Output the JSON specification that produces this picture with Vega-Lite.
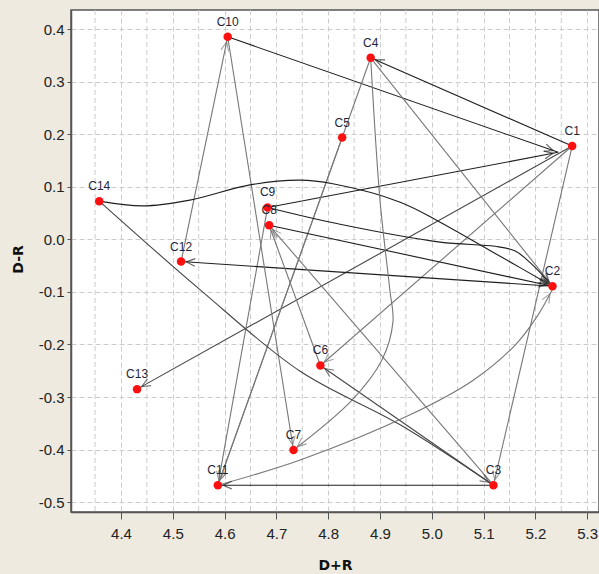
{
  "$schema": "https://vega.github.io/schema/vega-lite/v6.json",
  "width": 528,
  "height": 502,
  "autosize": {"type": "none"},
  "padding": {"left": 71, "top": 10, "right": 0, "bottom": 62},
  "background": "#EEEAE0",
  "view": {"fill": "white", "stroke": "#555555", "strokeWidth": 1.5},
  "config": {
    "axis": {
      "grid": true,
      "gridDash": [5, 3],
      "gridColor": "#cccccc",
      "gridWidth": 1,
      "domainColor": "#555555",
      "domainWidth": 1.5,
      "tickColor": "#555555",
      "labelFont": "Liberation Sans, Arial, sans-serif",
      "labelFontSize": 15,
      "labelColor": "#222222",
      "labelOverlap": false,
      "labelFlush": false,
      "titleFont": "DejaVu Sans",
      "titleFontSize": 14,
      "titleFontWeight": "bold",
      "titleColor": "#111111"
    }
  },
  "datasets": {
    "minorx": [
      {"g": 4.35}, {"g": 4.45}, {"g": 4.55}, {"g": 4.65}, {"g": 4.75},
      {"g": 4.85}, {"g": 4.95}, {"g": 5.05}, {"g": 5.15}, {"g": 5.25}
    ],
    "nodes": [
      {"name": "C1", "x": 5.271, "y": 0.178},
      {"name": "C2", "x": 5.233, "y": -0.089},
      {"name": "C3", "x": 5.119, "y": -0.468},
      {"name": "C4", "x": 4.882, "y": 0.346},
      {"name": "C5", "x": 4.827, "y": 0.194},
      {"name": "C6", "x": 4.785, "y": -0.240},
      {"name": "C7", "x": 4.733, "y": -0.401},
      {"name": "C8", "x": 4.686, "y": 0.027},
      {"name": "C9", "x": 4.683, "y": 0.061},
      {"name": "C10", "x": 4.606, "y": 0.386},
      {"name": "C11", "x": 4.587, "y": -0.468},
      {"name": "C12", "x": 4.516, "y": -0.042},
      {"name": "C13", "x": 4.431, "y": -0.285},
      {"name": "C14", "x": 4.358, "y": 0.073}
    ],
    "edges": [
      {"edge": "C10-C1", "seq": 0, "x": 4.606, "y": 0.386, "kind": "strong"},
      {"edge": "C10-C1", "seq": 1, "x": 5.244, "y": 0.166, "kind": "strong"},
      {"edge": "C9-C1", "seq": 0, "x": 4.683, "y": 0.061, "kind": "strong"},
      {"edge": "C9-C1", "seq": 1, "x": 5.244, "y": 0.166, "kind": "strong"},
      {"edge": "C1-C4", "seq": 0, "x": 5.271, "y": 0.178, "kind": "strong"},
      {"edge": "C1-C4", "seq": 1, "x": 4.882, "y": 0.346, "kind": "strong"},
      {"edge": "C1-C13", "seq": 0, "x": 5.271, "y": 0.178, "kind": "medium"},
      {"edge": "C1-C13", "seq": 1, "x": 4.431, "y": -0.285, "kind": "medium"},
      {"edge": "C1-C6", "seq": 0, "x": 5.271, "y": 0.178, "kind": "weak"},
      {"edge": "C1-C6", "seq": 1, "x": 4.785, "y": -0.240, "kind": "weak"},
      {"edge": "C1-C3", "seq": 0, "x": 5.271, "y": 0.178, "kind": "weak"},
      {"edge": "C1-C3", "seq": 1, "x": 5.119, "y": -0.468, "kind": "weak"},
      {"edge": "C3-C11", "seq": 0, "x": 5.119, "y": -0.468, "kind": "strong"},
      {"edge": "C3-C11", "seq": 1, "x": 4.587, "y": -0.468, "kind": "strong"},
      {"edge": "C4-C11", "seq": 0, "x": 4.882, "y": 0.346, "kind": "weak"},
      {"edge": "C4-C11", "seq": 1, "x": 4.587, "y": -0.468, "kind": "weak"},
      {"edge": "C5-C11", "seq": 0, "x": 4.827, "y": 0.194, "kind": "weak"},
      {"edge": "C5-C11", "seq": 1, "x": 4.587, "y": -0.468, "kind": "weak"},
      {"edge": "C9-C11", "seq": 0, "x": 4.683, "y": 0.061, "kind": "weak"},
      {"edge": "C9-C11", "seq": 1, "x": 4.587, "y": -0.468, "kind": "weak"},
      {"edge": "C4-C2", "seq": 0, "x": 4.882, "y": 0.346, "kind": "weak"},
      {"edge": "C4-C2", "seq": 1, "x": 5.233, "y": -0.089, "kind": "weak"},
      {"edge": "C8-C2", "seq": 0, "x": 4.686, "y": 0.027, "kind": "strong"},
      {"edge": "C8-C2", "seq": 1, "x": 5.233, "y": -0.089, "kind": "strong"},
      {"edge": "C2-C12", "seq": 0, "x": 5.233, "y": -0.089, "kind": "strong"},
      {"edge": "C2-C12", "seq": 1, "x": 4.516, "y": -0.042, "kind": "strong"},
      {"edge": "C12-C10", "seq": 0, "x": 4.516, "y": -0.042, "kind": "weak"},
      {"edge": "C12-C10", "seq": 1, "x": 4.606, "y": 0.386, "kind": "weak"},
      {"edge": "C10-C7", "seq": 0, "x": 4.606, "y": 0.386, "kind": "weak"},
      {"edge": "C10-C7", "seq": 1, "x": 4.733, "y": -0.401, "kind": "weak"},
      {"edge": "C3-C6", "seq": 0, "x": 5.119, "y": -0.468, "kind": "medium"},
      {"edge": "C3-C6", "seq": 1, "x": 4.785, "y": -0.240, "kind": "medium"},
      {"edge": "C14-C3", "seq": 0, "x": 4.358, "y": 0.073, "kind": "medium"},
      {"edge": "C14-C3", "seq": 1, "x": 4.553, "y": -0.096, "kind": "medium"},
      {"edge": "C14-C3", "seq": 2, "x": 4.746, "y": -0.251, "kind": "medium"},
      {"edge": "C14-C3", "seq": 3, "x": 4.939, "y": -0.353, "kind": "medium"},
      {"edge": "C14-C3", "seq": 4, "x": 5.119, "y": -0.468, "kind": "medium"},
      {"edge": "C3-C8", "seq": 0, "x": 5.119, "y": -0.468, "kind": "weak"},
      {"edge": "C3-C8", "seq": 1, "x": 4.686, "y": 0.027, "kind": "weak"},
      {"edge": "C6-C8", "seq": 0, "x": 4.785, "y": -0.240, "kind": "weak"},
      {"edge": "C6-C8", "seq": 1, "x": 4.686, "y": 0.027, "kind": "weak"},
      {"edge": "C14-C2", "seq": 0, "x": 4.358, "y": 0.073, "kind": "strong"},
      {"edge": "C14-C2", "seq": 1, "x": 4.442, "y": 0.064, "kind": "strong"},
      {"edge": "C14-C2", "seq": 2, "x": 4.533, "y": 0.075, "kind": "strong"},
      {"edge": "C14-C2", "seq": 3, "x": 4.649, "y": 0.104, "kind": "strong"},
      {"edge": "C14-C2", "seq": 4, "x": 4.746, "y": 0.113, "kind": "strong"},
      {"edge": "C14-C2", "seq": 5, "x": 4.809, "y": 0.106, "kind": "strong"},
      {"edge": "C14-C2", "seq": 6, "x": 4.939, "y": 0.071, "kind": "strong"},
      {"edge": "C14-C2", "seq": 7, "x": 5.016, "y": 0.033, "kind": "strong"},
      {"edge": "C14-C2", "seq": 8, "x": 5.132, "y": -0.032, "kind": "strong"},
      {"edge": "C14-C2", "seq": 9, "x": 5.233, "y": -0.089, "kind": "strong"},
      {"edge": "C9-C2", "seq": 0, "x": 4.683, "y": 0.061, "kind": "strong"},
      {"edge": "C9-C2", "seq": 1, "x": 4.823, "y": 0.029, "kind": "strong"},
      {"edge": "C9-C2", "seq": 2, "x": 5.016, "y": -0.005, "kind": "strong"},
      {"edge": "C9-C2", "seq": 3, "x": 5.122, "y": -0.013, "kind": "strong"},
      {"edge": "C9-C2", "seq": 4, "x": 5.161, "y": -0.022, "kind": "strong"},
      {"edge": "C9-C2", "seq": 5, "x": 5.193, "y": -0.047, "kind": "strong"},
      {"edge": "C9-C2", "seq": 6, "x": 5.233, "y": -0.089, "kind": "strong"},
      {"edge": "C11-C2", "seq": 0, "x": 4.587, "y": -0.468, "kind": "weak"},
      {"edge": "C11-C2", "seq": 1, "x": 4.746, "y": -0.420, "kind": "weak"},
      {"edge": "C11-C2", "seq": 2, "x": 4.958, "y": -0.334, "kind": "weak"},
      {"edge": "C11-C2", "seq": 3, "x": 5.080, "y": -0.268, "kind": "weak"},
      {"edge": "C11-C2", "seq": 4, "x": 5.161, "y": -0.201, "kind": "weak"},
      {"edge": "C11-C2", "seq": 5, "x": 5.205, "y": -0.144, "kind": "weak"},
      {"edge": "C11-C2", "seq": 6, "x": 5.233, "y": -0.095, "kind": "weak"},
      {"edge": "C4-C7", "seq": 0, "x": 4.882, "y": 0.346, "kind": "weak"},
      {"edge": "C4-C7", "seq": 1, "x": 4.900, "y": 0.075, "kind": "weak"},
      {"edge": "C4-C7", "seq": 2, "x": 4.919, "y": -0.096, "kind": "weak"},
      {"edge": "C4-C7", "seq": 3, "x": 4.925, "y": -0.157, "kind": "weak"},
      {"edge": "C4-C7", "seq": 4, "x": 4.904, "y": -0.229, "kind": "weak"},
      {"edge": "C4-C7", "seq": 5, "x": 4.846, "y": -0.306, "kind": "weak"},
      {"edge": "C4-C7", "seq": 6, "x": 4.733, "y": -0.401, "kind": "weak"}
    ]
  },
  "layer": [
    {
      "data": {"name": "minorx"},
      "mark": {"type": "rule", "strokeDash": [5, 3], "color": "#cccccc", "strokeWidth": 1},
      "encoding": {
        "x": {
          "field": "g", "type": "quantitative",
          "scale": {"domain": [4.3035, 5.3228], "nice": false, "zero": false},
          "axis": {
            "title": "D+R",
            "values": [4.4, 4.5, 4.6, 4.7, 4.8, 4.9, 5.0, 5.1, 5.2, 5.3],
            "format": ".1f",
            "tickSize": 7,
            "labelPadding": 7,
            "titleY": 53,
            "titleBaseline": "middle"
          }
        }
      }
    },
    {
      "data": {"name": "edges"},
      "mark": {"type": "line", "interpolate": "catmull-rom", "strokeWidth": 1.1},
      "encoding": {
        "x": {"field": "x", "type": "quantitative"},
        "y": {
          "field": "y", "type": "quantitative",
          "scale": {"domain": [-0.519, 0.437], "nice": false, "zero": false},
          "axis": {
            "title": "D-R",
            "values": [-0.5, -0.45, -0.4, -0.35, -0.3, -0.25, -0.2, -0.15, -0.1, -0.05, 0, 0.05, 0.1, 0.15, 0.2, 0.25, 0.3, 0.35, 0.4],
            "tickSize": 4,
            "tickOpacity": {"condition": {"test": "abs(datum.value*10 - round(datum.value*10)) < 0.01", "value": 1}, "value": 0},
            "labelExpr": "abs(datum.value*10 - round(datum.value*10)) < 0.01 ? replace(format(datum.value, '.1f'), '\u2212', '-') : ''",
            "labelPadding": 3,
            "titleX": -53,
            "titleY": 249,
            "titleAngle": -90,
            "titleAlign": "center",
            "titleBaseline": "middle"
          }
        },
        "detail": {"field": "edge"},
        "order": {"field": "seq"},
        "color": {
          "field": "kind", "type": "nominal",
          "scale": {"domain": ["strong", "medium", "weak"], "range": ["#1e1e1e", "#454545", "#777777"]},
          "legend": null
        }
      }
    },
    {
      "data": {"name": "edges"},
      "transform": [
        {"window": [{"op": "lag", "field": "x", "as": "px"}, {"op": "lag", "field": "y", "as": "py"}], "groupby": ["edge"], "sort": [{"field": "seq"}]},
        {"window": [{"op": "row_number", "as": "rn"}], "groupby": ["edge"], "sort": [{"field": "seq", "order": "descending"}]},
        {"filter": "datum.rn == 1"},
        {"calculate": "(atan2(-(datum.y - datum.py) * 525, (datum.x - datum.px) * 518) * 180 / PI + 360) % 360", "as": "ang"}
      ],
      "mark": {"type": "point", "shape": "M-2,-0.55L-0.75,0L-2,0.55", "filled": false, "size": 196, "strokeWidth": 1.1},
      "encoding": {
        "x": {"field": "x", "type": "quantitative"},
        "y": {"field": "y", "type": "quantitative"},
        "angle": {"field": "ang", "type": "quantitative", "scale": null},
        "color": {"field": "kind", "type": "nominal", "legend": null}
      }
    },
    {
      "data": {"name": "nodes"},
      "mark": {"type": "point", "shape": "circle", "filled": true, "size": 72, "color": "#ff1010", "opacity": 1},
      "encoding": {
        "x": {"field": "x", "type": "quantitative"},
        "y": {"field": "y", "type": "quantitative"}
      }
    },
    {
      "data": {"name": "nodes"},
      "mark": {"type": "text", "dy": -11, "baseline": "alphabetic", "align": "center", "fontSize": 12, "font": "Liberation Sans, Arial, sans-serif", "color": "#1e2538"},
      "encoding": {
        "x": {"field": "x", "type": "quantitative"},
        "y": {"field": "y", "type": "quantitative"},
        "text": {"field": "name"}
      }
    }
  ]
}
